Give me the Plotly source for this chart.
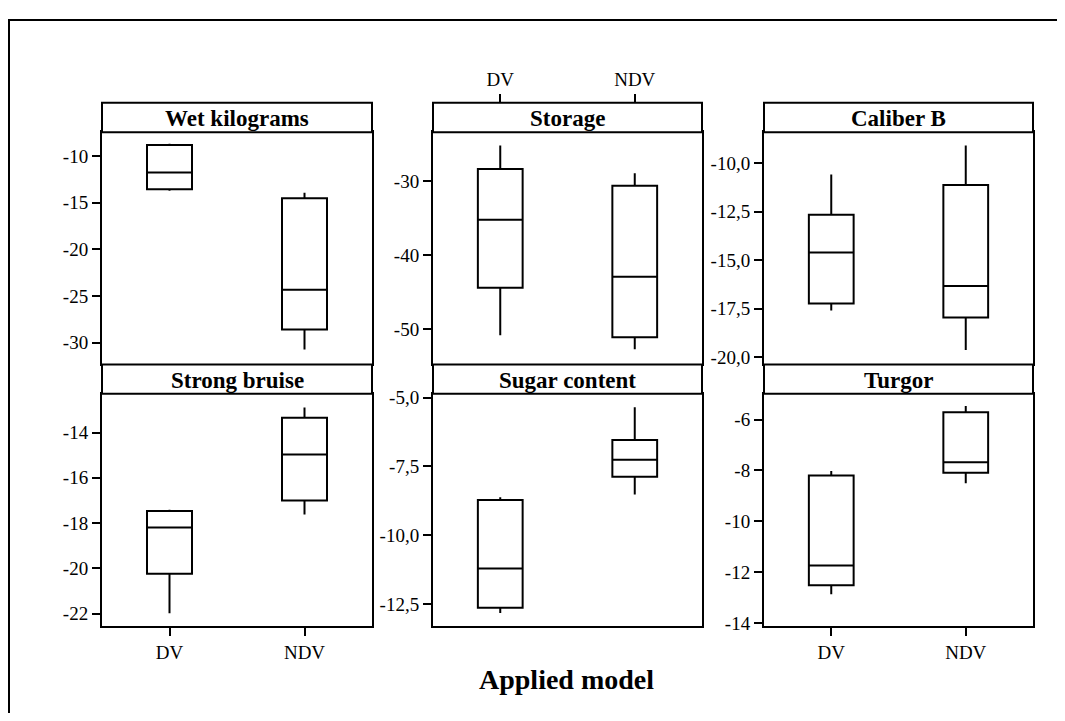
import plotly.graph_objects as go

# ---------------- data ----------------
groups = ["DV", "NDV"]
panel_titles = ["Wet kilograms", "Storage", "Caliber B",
                "Strong bruise", "Sugar content", "Turgor"]

wet_low = [-13.74, -30.73]
wet_q1 = [-13.57, -28.60]
wet_med = [-11.78, -24.33]
wet_q3 = [-8.85, -14.54]
wet_high = [-8.70, -13.95]

storage_low = [-50.80, -52.70]
storage_q1 = [-44.38, -51.06]
storage_med = [-35.20, -42.90]
storage_q3 = [-28.32, -30.60]
storage_high = [-25.14, -28.90]

caliber_low = [-17.58, -19.62]
caliber_q1 = [-17.22, -17.94]
caliber_med = [-14.60, -16.33]
caliber_q3 = [-12.66, -11.13]
caliber_high = [-10.59, -9.10]

bruise_low = [-21.98, -17.62]
bruise_q1 = [-20.24, -17.00]
bruise_med = [-18.20, -14.97]
bruise_q3 = [-17.47, -13.35]
bruise_high = [-17.41, -12.89]

sugar_low = [-12.82, -8.52]
sugar_q1 = [-12.63, -7.87]
sugar_med = [-11.20, -7.26]
sugar_q3 = [-8.72, -6.54]
sugar_high = [-8.615, -5.35]

turgor_low = [-12.87, -8.51]
turgor_q1 = [-12.52, -8.09]
turgor_med = [-11.74, -7.68]
turgor_q3 = [-8.20, -5.71]
turgor_high = [-8.02, -5.47]

wet_ticks = [-30, -25, -20, -15, -10]
wet_ticktext = ["-30", "-25", "-20", "-15", "-10"]
storage_ticks = [-50, -40, -30]
storage_ticktext = ["-50", "-40", "-30"]
caliber_ticks = [-20, -17.5, -15, -12.5, -10]
caliber_ticktext = ["-20,0", "-17,5", "-15,0", "-12,5", "-10,0"]
bruise_ticks = [-22, -20, -18, -16, -14]
bruise_ticktext = ["-22", "-20", "-18", "-16", "-14"]
sugar_ticks = [-12.5, -10, -7.5, -5]
sugar_ticktext = ["-12,5", "-10,0", "-7,5", "-5,0"]
turgor_ticks = [-14, -12, -10, -8, -6]
turgor_ticktext = ["-14", "-12", "-10", "-8", "-6"]

x_title = "Applied model"

# ---------------- layout geometry (pixels of the page) ----------------
PAGE_W, PAGE_H = 1065, 721
OFF = 8                      # default body margin of the html page
W, H = PAGE_W - 2 * OFF, PAGE_H - 2 * OFF
FONT = "Liberation Serif"
col_px = [(102, 372), (433, 702), (764, 1033)]
row_px = [(127.5, 364.5), (394.5, 631.7)]
strip_h = 30


def px_x(v):
    return (v - OFF) / W


def px_y(v):
    return 1 - (v - OFF) / H


stats = [
    (wet_low, wet_q1, wet_med, wet_q3, wet_high),
    (storage_low, storage_q1, storage_med, storage_q3, storage_high),
    (caliber_low, caliber_q1, caliber_med, caliber_q3, caliber_high),
    (bruise_low, bruise_q1, bruise_med, bruise_q3, bruise_high),
    (sugar_low, sugar_q1, sugar_med, sugar_q3, sugar_high),
    (turgor_low, turgor_q1, turgor_med, turgor_q3, turgor_high),
]
ticks = [
    (wet_ticks, wet_ticktext), (storage_ticks, storage_ticktext),
    (caliber_ticks, caliber_ticktext), (bruise_ticks, bruise_ticktext),
    (sugar_ticks, sugar_ticktext), (turgor_ticks, turgor_ticktext),
]
yranges = [(-32.33, -7.46), (-54.74, -23.35), (-20.36, -8.41),
           (-22.56, -12.29), (-13.30, -4.865), (-14.13, -4.99)]

fig = go.Figure()
layout = dict(
    width=W, height=H, autosize=False,
    margin=dict(l=0, r=0, t=0, b=0),
    paper_bgcolor="white", plot_bgcolor="white",
    showlegend=False,
    font=dict(family=FONT, size=19, color="black"),
)
shapes = []
annotations = []

for i in range(6):
    r, c = divmod(i, 3)
    n = "" if i == 0 else str(i + 1)
    low, q1, med, q3, high = stats[i]
    fig.add_trace(go.Box(
        x=groups, lowerfence=low, q1=q1, median=med, q3=q3, upperfence=high,
        xaxis="x" + n, yaxis="y" + n,
        width=0.333, whiskerwidth=0,
        fillcolor="white", line=dict(color="black", width=2),
        boxpoints=False, hoverinfo="skip",
    ))
    x0, x1 = col_px[c]
    y0, y1 = row_px[r]
    show_x = (i in (3, 5))
    layout["xaxis" + n] = dict(
        domain=[px_x(x0), px_x(x1)], anchor="y" + n,
        type="category", categoryarray=groups, range=[-0.5, 1.5],
        showline=True, mirror=True, linecolor="black", linewidth=2,
        showgrid=False, zeroline=False,
        ticks="outside" if show_x else "", ticklen=8, tickwidth=1.5, tickcolor="black",
        showticklabels=show_x, tickfont=dict(family=FONT, size=19),
    )
    tv, tt = ticks[i]
    layout["yaxis" + n] = dict(
        domain=[px_y(y1), px_y(y0)], anchor="x" + n,
        range=list(yranges[i]),
        tickvals=tv, ticktext=tt,
        showline=True, mirror=True, linecolor="black", linewidth=2,
        showgrid=False, zeroline=False,
        ticks="outside", ticklen=8, tickwidth=1.5, tickcolor="black",
        tickfont=dict(family=FONT, size=19),
    )
    # strip
    shapes.append(dict(type="rect", xref="paper", yref="paper",
                       x0=px_x(x0), x1=px_x(x1),
                       y0=px_y(y0), y1=px_y(y0 - strip_h),
                       line=dict(color="black", width=2), fillcolor="white"))
    annotations.append(dict(xref="paper", yref="paper",
                            x=px_x((x0 + x1) / 2), y=px_y(y0 - strip_h / 2 + 1),
                            text="<b>" + panel_titles[i] + "</b>", showarrow=False,
                            font=dict(family=FONT, size=23, color="black"),
                            xanchor="center", yanchor="middle"))

# top axis for Storage panel (above strip)
fig.add_trace(go.Scatter(x=[None], y=[None], xaxis="x7", yaxis="y2",
                         showlegend=False, hoverinfo="skip"))
layout["xaxis7"] = dict(
    overlaying="x2", side="top", anchor="free",
    position=px_y(row_px[0][0] - strip_h),
    range=[-0.5, 1.5], tickvals=[0, 1], ticktext=groups,
    showline=False, showgrid=False, zeroline=False,
    ticks="outside", ticklen=9, tickwidth=1.5, tickcolor="black",
    tickfont=dict(family=FONT, size=19),
)

# outer frame (only left and top edges visible)
shapes.append(dict(type="rect", xref="paper", yref="paper",
                   x0=px_x(9), x1=1.05, y0=-0.05, y1=px_y(13),
                   line=dict(color="black", width=2), fillcolor="rgba(0,0,0,0)",
                   layer="below"))

annotations.append(dict(xref="paper", yref="paper",
                        x=px_x(566), y=px_y(686), text="<b>" + x_title + "</b>",
                        showarrow=False, xanchor="center", yanchor="middle",
                        font=dict(family=FONT, size=28, color="black")))

layout["shapes"] = shapes
layout["annotations"] = annotations
fig.update_layout(**layout)
fig.write_html("out.html")
